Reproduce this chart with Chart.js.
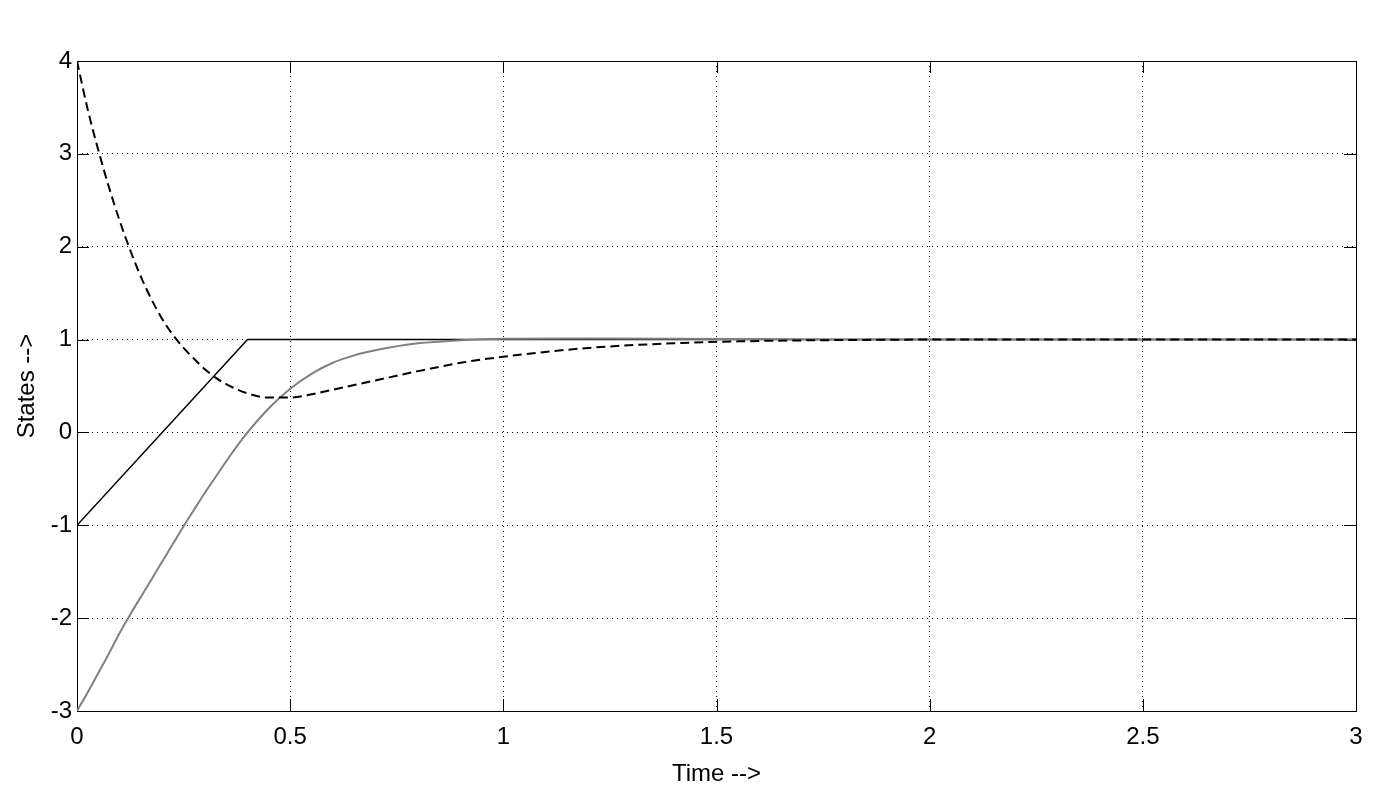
<!DOCTYPE html>
<html>
<head>
<meta charset="utf-8">
<title>States vs Time</title>
<script src="https://cdn.jsdelivr.net/npm/chart.js@4.4.0/dist/chart.umd.min.js"></script>
<style>
  html, body { margin: 0; padding: 0; background: #fff; }
  canvas { display: block; }
</style>
</head>
<body>
<canvas id="statesChart" width="1375" height="800"></canvas>
<script>
// sample times (s)
const times = [0, 0.025, 0.05, 0.075, 0.1, 0.125, 0.15, 0.175, 0.2, 0.225, 0.25, 0.275, 0.3, 0.325, 0.35,
  0.4, 0.45, 0.5, 0.55, 0.6, 0.65, 0.7, 0.8, 0.9, 1.0, 1.2, 1.4, 1.6, 1.8, 2.0, 2.5, 3.0];

// dashed black state
const stateDashed = [4.0, 3.48, 3.04, 2.64, 2.28, 1.96, 1.675, 1.43, 1.22, 1.05, 0.91, 0.79, 0.68, 0.59, 0.52,
  0.42, 0.375, 0.375, 0.41, 0.46, 0.51, 0.56, 0.66, 0.75, 0.815, 0.91, 0.96, 0.985, 0.995, 1.0, 1.0, 1.0];

// gray state
const stateGray = [-3.0, -2.8, -2.59, -2.38, -2.16, -1.96, -1.77, -1.58, -1.39, -1.2, -1.01, -0.83, -0.65, -0.48, -0.31,
  0.0, 0.26, 0.47, 0.63, 0.75, 0.83, 0.885, 0.96, 0.993, 1.008, 1.012, 1.01, 1.005, 1.0, 1.0, 1.0, 1.0];

// solid black state (ramp then flat)
const rampTimes = [0, 0.4, 3];
const rampValues = [-1, 1, 1];

const xTicks = [0, 0.5, 1, 1.5, 2, 2.5, 3];
const yTicks = [-3, -2, -1, 0, 1, 2, 3, 4];

function toPoints(xs, ys) {
  return xs.map((x, i) => ({ x: x, y: ys[i] }));
}

const FONT = "'Liberation Sans', Arial, Helvetica, sans-serif";

// draws the solid box and inward tick marks on all four sides
const boxPlugin = {
  id: "boxPlugin",
  beforeDatasetsDraw(chart) {
    const ctx = chart.ctx;
    const area = chart.chartArea;
    const xs = chart.scales.x;
    const ys = chart.scales.y;
    const len = 12;
    ctx.save();
    ctx.strokeStyle = "#000";
    ctx.lineWidth = 1;
    ctx.beginPath();
    xTicks.forEach((v) => {
      const px = Math.round(xs.getPixelForValue(v)) + 0.5;
      ctx.moveTo(px, area.bottom);
      ctx.lineTo(px, area.bottom - len);
      ctx.moveTo(px, area.top);
      ctx.lineTo(px, area.top + len);
    });
    yTicks.forEach((v) => {
      const py = Math.round(ys.getPixelForValue(v)) + 0.5;
      ctx.moveTo(area.left, py);
      ctx.lineTo(area.left + len, py);
      ctx.moveTo(area.right, py);
      ctx.lineTo(area.right - len, py);
    });
    ctx.stroke();
    ctx.strokeRect(Math.round(area.left) + 0.5, Math.round(area.top) + 0.5,
      Math.round(area.right - area.left), Math.round(area.bottom - area.top));
    ctx.restore();
  },
};

const config = {
  type: "line",
  data: {
    datasets: [
      {
        label: "x1",
        data: toPoints(times, stateDashed),
        borderColor: "#000",
        borderWidth: 2,
        borderDash: [9, 5],
        pointRadius: 0,
        cubicInterpolationMode: "monotone",
        order: 0,
      },
      {
        label: "x2",
        data: toPoints(times, stateGray),
        borderColor: "#808080",
        borderWidth: 2,
        pointRadius: 0,
        cubicInterpolationMode: "monotone",
        order: 1,
      },
      {
        label: "x3",
        data: toPoints(rampTimes, rampValues),
        borderColor: "#000",
        borderWidth: 1.5,
        pointRadius: 0,
        tension: 0,
        order: 2,
      },
    ],
  },
  options: {
    responsive: false,
    animation: false,
    devicePixelRatio: 1,
    layout: {
      padding: { top: 61, right: 19, left: 0, bottom: 0 },
    },
    plugins: {
      legend: { display: false },
      tooltip: { enabled: false },
    },
    scales: {
      x: {
        type: "linear",
        min: 0,
        max: 3,
        afterFit(scale) {
          scale.height = 89;
        },
        afterBuildTicks(scale) {
          scale.ticks = xTicks.map((v) => ({ value: v }));
        },
        grid: {
          color: "#000",
          lineWidth: 1,
          drawTicks: false,
        },
        border: { display: false, dash: [1, 4] },
        ticks: {
          color: "#000",
          padding: 12,
          maxRotation: 0,
          font: { family: FONT, size: 24 },
          callback: (v) => String(v),
        },
        title: {
          display: true,
          text: "Time -->",
          color: "#000",
          font: { family: FONT, size: 24 },
          padding: { top: 0, bottom: 11 },
        },
      },
      y: {
        type: "linear",
        min: -3,
        max: 4,
        afterFit(scale) {
          scale.width = 77;
        },
        afterBuildTicks(scale) {
          scale.ticks = yTicks.map((v) => ({ value: v }));
        },
        grid: {
          color: "#000",
          lineWidth: 1,
          drawTicks: false,
        },
        border: { display: false, dash: [1, 4] },
        ticks: {
          color: "#000",
          padding: 5,
          font: { family: FONT, size: 24 },
          callback: (v) => String(v),
        },
        title: {
          display: true,
          text: "States -->",
          color: "#000",
          font: { family: FONT, size: 24 },
          padding: { top: 13, bottom: 0 },
        },
      },
    },
  },
  plugins: [boxPlugin],
};

const ctx = document.getElementById("statesChart").getContext("2d");
const statesChart = new Chart(ctx, config);
</script>
</body>
</html>
